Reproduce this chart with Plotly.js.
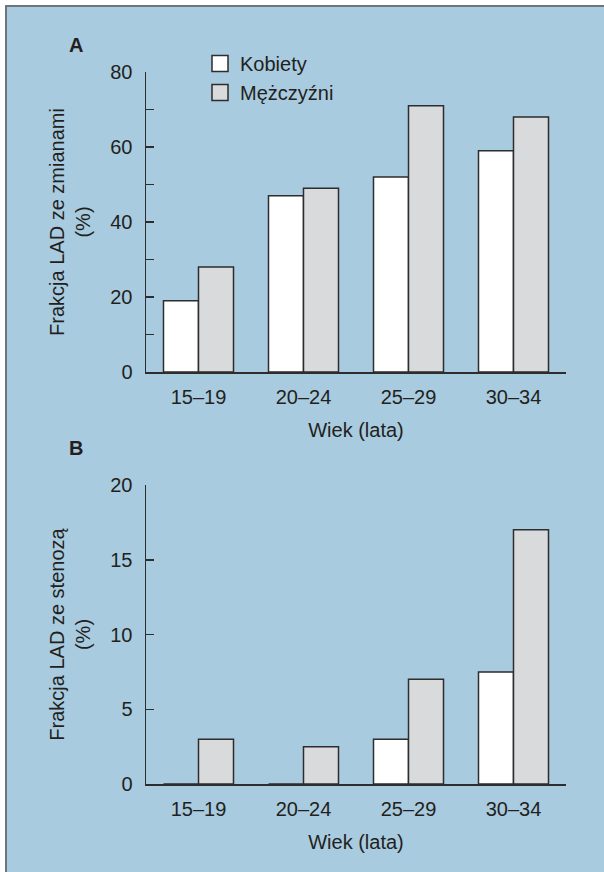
<!DOCTYPE html>
<html>
<head>
<meta charset="utf-8">
<script src="https://cdn.plot.ly/plotly-3.0.1.min.js"></script>
<style>
  html, body { margin: 0; padding: 0; background: #ffffff; }
  #frame { position: absolute; left: 5px; top: 5px; width: 599px; height: 867px;
           background: #a8cbdf; border-left: 2px solid #6e7479; border-top: 2px solid #6e7479; box-sizing: border-box; }
  #chart { position: absolute; left: 0; top: 0; width: 604px; height: 872px; }
</style>
</head>
<body>
<div id="frame"></div>
<div id="chart"></div>
<script>
const categories = ["15–19", "20–24", "25–29", "30–34"];
const seriesNames = ["Kobiety", "Mężczyźni"];
const changesWomen = [19, 47, 52, 59];
const changesMen = [28, 49, 71, 68];
const stenosisWomen = [0, 0, 3, 7.5];
const stenosisMen = [3, 2.5, 7, 17];
const yTicksA = [0, 10, 20, 30, 40, 50, 60, 70, 80];
const yTickTextA = ["0", "", "20", "", "40", "", "60", "", "80"];
const yTicksB = [0, 5, 10, 15, 20];
const yTickTextB = ["0", "5", "10", "15", "20"];

const W = 604, H = 872;
const FONT = "Liberation Sans, Arial, Helvetica, sans-serif";
const TXT = "#231f20";
const EDGE = "#2d2d2d";
const WOMEN_FILL = "#ffffff";
const MEN_FILL = "#d9dadc";

function px(x) { return x / W; }
function py(y) { return 1 - y / H; }

function bar(xa, ya, vals, fill) {
  return {
    type: "bar", x: categories, y: vals, xaxis: xa, yaxis: ya,
    marker: { color: fill, line: { color: EDGE, width: 1.5 } },
    showlegend: false, hoverinfo: "skip"
  };
}

const traces = [
  bar("x", "y", changesWomen, WOMEN_FILL),
  bar("x", "y", changesMen, MEN_FILL),
  bar("x2", "y2", stenosisWomen, WOMEN_FILL),
  bar("x2", "y2", stenosisMen, MEN_FILL),
  { type: "scatter", mode: "markers", x: [null], y: [null], name: seriesNames[0],
    marker: { symbol: "square", size: 16, color: WOMEN_FILL, line: { color: EDGE, width: 1.5 } } },
  { type: "scatter", mode: "markers", x: [null], y: [null], name: seriesNames[1],
    marker: { symbol: "square", size: 16, color: MEN_FILL, line: { color: EDGE, width: 1.5 } } }
];

const xDomain = [px(146), px(566)];
const font = { family: FONT, size: 20, color: TXT };

function xAxis(anchor) {
  return {
    domain: xDomain, anchor: anchor, type: "category", range: [-0.5, 3.5],
    showline: true, linecolor: EDGE, linewidth: 1.5, ticks: "", showgrid: false,
    zeroline: false, tickfont: font, ticklabelstandoff: 6,
    title: { text: "Wiek (lata)", font: font, standoff: 16 }, fixedrange: true
  };
}
function yAxis(anchor, dom, range, tv, tt, title) {
  return {
    domain: dom, anchor: anchor, range: range, tickmode: "array", tickvals: tv, ticktext: tt,
    showline: true, linecolor: EDGE, linewidth: 1.5, ticks: "inside", ticklen: 8, tickwidth: 1.5,
    tickcolor: EDGE, showgrid: false, zeroline: false, tickfont: font, ticklabelstandoff: 8,
    title: { text: title, font: font, standoff: 14 }, fixedrange: true
  };
}

const layout = {
  width: W, height: H,
  margin: { l: 0, r: 0, t: 0, b: 0, autoexpand: false },
  paper_bgcolor: "rgba(0,0,0,0)", plot_bgcolor: "rgba(0,0,0,0)",
  font: font,
  barmode: "group", bargap: 1 / 3, bargroupgap: 0,
  xaxis: xAxis("y"),
  yaxis: yAxis("x", [py(372), py(72)], [0, 80], yTicksA, yTickTextA, "Frakcja LAD ze zmianami<br>(%)"),
  xaxis2: xAxis("y2"),
  yaxis2: yAxis("x2", [py(784), py(485)], [0, 20], yTicksB, yTickTextB, "Frakcja LAD ze stenozą<br>(%)"),
  legend: {
    x: px(200), y: py(44), xanchor: "left", yanchor: "top",
    bgcolor: "rgba(0,0,0,0)", font: font, tracegroupgap: 0, itemwidth: 30
  },
  annotations: [
    { text: "<b>A</b>", x: px(76), y: py(45), xref: "paper", yref: "paper", showarrow: false,
      xanchor: "center", yanchor: "middle", font: { family: FONT, size: 20, color: TXT } },
    { text: "<b>B</b>", x: px(76), y: py(448), xref: "paper", yref: "paper", showarrow: false,
      xanchor: "center", yanchor: "middle", font: { family: FONT, size: 20, color: TXT } }
  ]
};

Plotly.newPlot("chart", traces, layout, { displayModeBar: false, staticPlot: true });
</script>
</body>
</html>
